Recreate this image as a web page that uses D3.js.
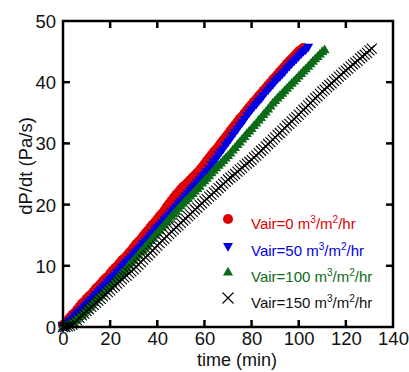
<!DOCTYPE html>
<html>
<head>
<meta charset="utf-8">
<script src="https://cdn.jsdelivr.net/npm/d3@7/dist/d3.min.js"></script>
<style>
  html, body { margin: 0; padding: 0; background: #fff; }
  svg { display: block; font-family: "Liberation Sans", Arial, sans-serif; }
</style>
</head>
<body>
<script>
// time axis (min), one sample per minute
const time = [0,1,2,3,4,5,6,7,8,9,10,11,12,13,14,15,16,17,18,19,20,21,22,23,24,25,26,27,28,29,30,31,32,33,34,35,36,37,38,39,40,41,42,43,44,45,46,47,48,49,50,51,52,53,54,55,56,57,58,59,60,61,62,63,64,65,66,67,68,69,70,71,72,73,74,75,76,77,78,79,80,81,82,83,84,85,86,87,88,89,90,91,92,93,94,95,96,97,98,99,100,101,102,103,104,105,106,107,108,109,110,111,112,113,114,115,116,117,118,119,120,121,122,123,124,125,126,127,128,129,130,131];

// dP/dt (Pa/s) for each air flow
const vair0 = [0.3,0.6,1.1,1.6,2.0,2.3,2.8,3.3,3.8,4.1,4.6,5.0,5.3,5.8,6.3,6.6,7.0,7.5,7.9,8.2,8.7,9.2,9.6,9.9,10.4,10.9,11.2,11.6,12.1,12.5,13.0,13.5,13.9,14.3,14.8,15.3,15.7,16.2,16.7,17.1,17.6,18.1,18.5,19.0,19.6,20.1,20.6,21.1,21.6,22.0,22.5,22.9,23.2,23.6,24.0,24.4,24.8,25.2,25.6,26.1,26.6,27.1,27.6,28.1,28.6,29.0,29.5,30.0,30.5,31.0,31.5,32.0,32.5,33.0,33.5,34.0,34.4,34.9,35.4,35.9,36.3,36.8,37.2,37.7,38.1,38.6,39.0,39.5,39.9,40.4,40.8,41.2,41.7,42.1,42.5,43.0,43.4,43.8,44.2,44.6,45.0,45.3,45.6];
const vair50 = [0.0,0.4,0.8,1.1,1.5,1.9,2.3,2.6,3.0,3.4,3.8,4.2,4.6,5.0,5.4,5.8,6.2,6.6,7.0,7.4,7.8,8.2,8.6,9.0,9.4,9.9,10.3,10.7,11.1,11.5,12.0,12.4,12.8,13.2,13.7,14.1,14.5,15.0,15.4,15.9,16.3,16.7,17.1,17.6,18.0,18.4,18.9,19.3,19.7,20.2,20.6,21.0,21.5,21.9,22.4,22.8,23.2,23.7,24.1,24.6,25.0,25.5,26.0,26.6,27.1,27.6,28.2,28.7,29.2,29.8,30.3,30.8,31.4,31.9,32.4,33.0,33.5,34.0,34.6,35.1,35.6,36.1,36.5,37.0,37.4,37.9,38.4,38.8,39.3,39.7,40.2,40.6,41.0,41.4,41.8,42.3,42.7,43.1,43.5,43.9,44.3,44.7,45.1,45.4,45.8];
const vair100 = [0.0,0.1,0.3,0.5,0.7,1.0,1.3,1.7,2.0,2.4,2.8,3.2,3.6,4.0,4.4,4.8,5.1,5.5,5.9,6.3,6.7,7.1,7.5,8.0,8.4,8.8,9.2,9.6,10.1,10.5,10.9,11.4,11.8,12.3,12.7,13.2,13.6,14.1,14.5,15.0,15.4,15.8,16.3,16.7,17.2,17.6,18.1,18.5,18.9,19.4,19.8,20.2,20.6,21.0,21.4,21.8,22.2,22.6,23.0,23.5,23.9,24.3,24.7,25.2,25.6,26.0,26.4,26.8,27.2,27.6,28.0,28.4,28.9,29.3,29.8,30.2,30.7,31.1,31.6,32.0,32.4,32.9,33.3,33.8,34.2,34.7,35.1,35.6,36.1,36.6,37.0,37.4,37.8,38.2,38.6,39.0,39.4,39.8,40.2,40.6,41.0,41.4,41.8,42.2,42.6,43.0,43.4,43.8,44.2,44.6,45.0,45.3];
const vair150 = [0.0,0.0,0.1,0.2,0.4,0.7,1.1,1.5,1.9,2.2,2.6,2.9,3.3,3.6,4.0,4.3,4.6,5.0,5.3,5.7,6.0,6.4,6.7,7.1,7.4,7.8,8.1,8.4,8.8,9.1,9.4,9.8,10.2,10.6,11.0,11.4,11.7,12.1,12.5,12.9,13.3,13.7,14.1,14.4,14.8,15.2,15.6,15.9,16.3,16.6,17.0,17.4,17.7,18.1,18.4,18.8,19.2,19.5,19.9,20.2,20.6,20.9,21.3,21.6,22.0,22.3,22.7,23.0,23.4,23.7,24.1,24.4,24.7,25.0,25.4,25.7,26.0,26.4,26.7,27.0,27.3,27.7,28.0,28.4,28.8,29.1,29.5,29.9,30.2,30.6,31.0,31.4,31.7,32.1,32.5,32.9,33.2,33.6,34.0,34.3,34.7,35.1,35.5,35.8,36.2,36.6,37.0,37.4,37.7,38.1,38.5,38.8,39.2,39.5,39.8,40.2,40.5,40.9,41.2,41.6,41.9,42.2,42.6,42.9,43.2,43.5,43.9,44.2,44.5,44.8,45.2,45.5];

const seriesNames = ["Vair=0", "Vair=50", "Vair=100", "Vair=150"];
const seriesColors = ["#e00000", "#0000e6", "#0b6b16", "#000000"];
const seriesShapes = ["circle", "triDown", "triUp", "cross"];
const xTicks = [0, 20, 40, 60, 80, 100, 120, 140];
const yTicks = [0, 10, 20, 30, 40, 50];

const W = 409, H = 372;
const margin = { left: 63, right: 16, top: 21, bottom: 45 };

const svg = d3.select("body").append("svg").attr("width", W).attr("height", H);

const x = d3.scaleLinear().domain([0, 140]).range([margin.left, W - margin.right]);
const y = d3.scaleLinear().domain([0, 50]).range([H - margin.bottom, margin.top]);

const allValues = [vair0, vair50, vair100, vair150];

function shapePath(shape, big) {
  if (shape === "circle") return d3.symbol(d3.symbolCircle, 80)();
  if (shape === "triUp") return d3.symbol(d3.symbolTriangle, 44)();
  if (shape === "triDown") return d3.symbol(d3.symbolTriangle, 44)();
  const s = big ? 5.5 : 5;
  return `M${-s},${-s}L${s},${s}M${-s},${s}L${s},${-s}`;
}
function drawMarker(g, shape, color, cx, cy, big) {
  const p = g.append("path").attr("d", shapePath(shape, big));
  let tr = `translate(${cx},${cy})`;
  if (shape === "triDown") tr += " rotate(180)";
  if (shape === "triUp") tr += " translate(0,0.5)";
  p.attr("transform", tr);
  if (shape === "cross") p.attr("fill", "none").attr("stroke", color).attr("stroke-width", 1.1);
  else p.attr("fill", color);
}

// data
allValues.forEach((vals, si) => {
  const g = svg.append("g");
  vals.forEach((v, i) => {
    drawMarker(g, seriesShapes[si], seriesColors[si], x(time[i]), y(v), false);
  });
});

// frame and ticks
const frame = svg.append("g");
frame.append("rect")
  .attr("x", x(0)).attr("y", y(50))
  .attr("width", x(140) - x(0)).attr("height", y(0) - y(50))
  .attr("fill", "none").attr("stroke", "#000").attr("stroke-width", 2.5);

const tickLen = 7;
const axB = d3.axisBottom(x).tickValues(xTicks).tickSize(0).tickPadding(5);
const gB = svg.append("g").attr("transform", `translate(0,${y(0)})`).call(axB);
const axL = d3.axisLeft(y).tickValues(yTicks).tickSize(0).tickPadding(7);
const gL = svg.append("g").attr("transform", `translate(${x(0)},0)`).call(axL);
[gB, gL].forEach(g => {
  g.select(".domain").remove();
  g.selectAll("text").attr("font-size", 18.5).attr("fill", "#111")
    .attr("font-family", "'Liberation Sans', Arial, sans-serif");
});
gB.selectAll("text").attr("dy", "0.71em");
gL.selectAll("text").attr("dy", "0.35em");

const innerX = xTicks.filter(t => t > 0 && t < 140);
const innerY = yTicks.filter(t => t > 0 && t < 50);
innerX.forEach(t => {
  frame.append("line").attr("x1", x(t)).attr("x2", x(t)).attr("y1", y(0)).attr("y2", y(0) - tickLen)
    .attr("stroke", "#000").attr("stroke-width", 2.5);
  frame.append("line").attr("x1", x(t)).attr("x2", x(t)).attr("y1", y(50)).attr("y2", y(50) + tickLen)
    .attr("stroke", "#000").attr("stroke-width", 2.5);
});
innerY.forEach(t => {
  frame.append("line").attr("x1", x(0)).attr("x2", x(0) + tickLen).attr("y1", y(t)).attr("y2", y(t))
    .attr("stroke", "#000").attr("stroke-width", 2.5);
  frame.append("line").attr("x1", x(140)).attr("x2", x(140) - tickLen).attr("y1", y(t)).attr("y2", y(t))
    .attr("stroke", "#000").attr("stroke-width", 2.5);
});

// axis titles
svg.append("text").attr("x", 237).attr("y", 366).attr("text-anchor", "middle")
  .attr("font-size", 18).attr("fill", "#111").text("time (min)");
svg.append("text").attr("transform", "translate(32,166) rotate(-90)").attr("text-anchor", "middle")
  .attr("font-size", 18.5).attr("fill", "#111").text("dP/dt (Pa/s)");

// legend
const legRows = [229, 256, 282, 308];
const leg = svg.append("g");
seriesNames.forEach((name, i) => {
  const by = legRows[i];
  drawMarker(leg, seriesShapes[i], seriesColors[i], 228, by - 10, true);
  const t = leg.append("text").attr("x", 251).attr("y", by)
    .attr("font-size", 15).attr("fill", seriesColors[i] === "#000000" ? "#111" : seriesColors[i]);
  t.append("tspan").text(name + " m");
  t.append("tspan").attr("font-size", 10).attr("dy", -6).text("3");
  t.append("tspan").attr("dy", 6).text("/m");
  t.append("tspan").attr("font-size", 10).attr("dy", -6).text("2");
  t.append("tspan").attr("dy", 6).text("/hr");
});
</script>
</body>
</html>
